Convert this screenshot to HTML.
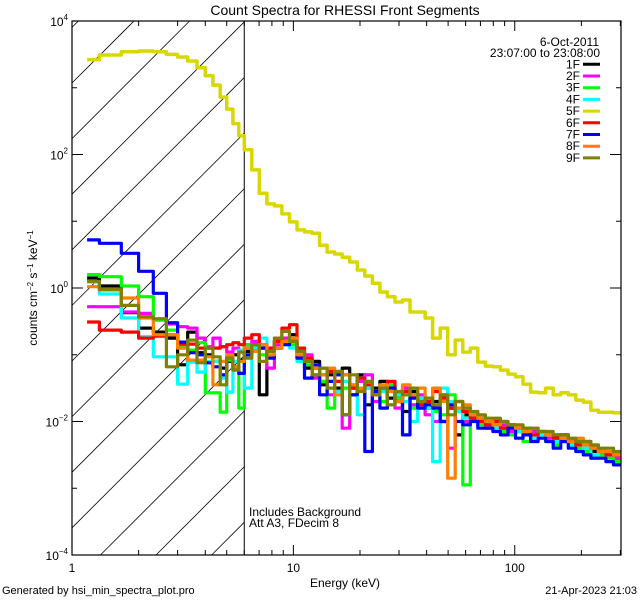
<!DOCTYPE html>
<html><head><meta charset="utf-8">
<style>
html,body{margin:0;padding:0;background:#fff;width:640px;height:600px;overflow:hidden;}
svg{display:block;font-family:"Liberation Sans",sans-serif;}
</style></head>
<body>
<svg id="chart" width="640" height="600" xmlns="http://www.w3.org/2000/svg" overflow="hidden">
<rect x="0" y="0" width="640" height="600" fill="#fff"/>
<text x="345" y="15" font-size="14" text-anchor="middle">Count Spectra for RHESSI Front Segments</text>
<g id="plot"></g>
<text x="345" y="587" font-size="12" text-anchor="middle">Energy (keV)</text>
<text transform="translate(37,288) rotate(-90)" font-size="12" text-anchor="middle">counts cm<tspan baseline-shift="super" font-size="8">−2</tspan> s<tspan baseline-shift="super" font-size="8">−1</tspan> keV<tspan baseline-shift="super" font-size="8">−1</tspan></text>
<text x="2" y="594" font-size="11">Generated by hsi_min_spectra_plot.pro</text>
<text x="637" y="594" font-size="11" text-anchor="end">21-Apr-2023 21:03</text>
<text x="249" y="516" font-size="12">Includes Background</text>
<text x="249" y="527" font-size="12">Att A3, FDecim 8</text>
<text x="599" y="46" font-size="12" text-anchor="end">6-Oct-2011</text>
<text x="600" y="57" font-size="12" text-anchor="end">23:07:00 to 23:08:00</text>
</svg>
<script>
// ---- data ----
const segments = ["1F","2F","3F","4F","5F","6F","7F","8F","9F"];
const colors = ["#000000","#ff00ff","#00ff00","#00ffff","#d8d800","#ff0000","#0000ff","#ff8000","#808000"];
const lowEdges = [1.17,1.33,1.67,2.0,2.33,2.67,3.0,3.33,3.67,4.0,4.33,4.67,5.0,5.33,5.67,6.0];
const highStart = 6.0, highEnd = 302, highBins = 50;
const xTicks = [1,10,100];
const xTickLabels = ["1","10","100"];
const yTickExps = [-4,-2,0,2,4];
const attenuatorEdge = 6.0;
// log10(counts) per segment: 15 low bins then 50 high bins
const log1F = [0.15,0.03,-0.37,-0.6,-0.66,-0.75,-1.15,-0.66,-0.97,-1.0,-1.1,-1.2,-1.1,-1.0,-1.08,
 -0.95,-0.85,-1.6,-0.9,-0.8,-0.75,-0.7,-0.95,-1.2,-1.1,-1.45,-1.3,-1.5,-1.2,-1.6,-1.3,-1.75,-1.5,-1.4,-1.65,-1.6,-1.85,-1.55,-1.7,-1.8,-1.7,-2.0,-1.8,-2.2,-1.9,-1.95,-2.0,-2.05,-2.0,-2.1,-2.05,-2.15,-2.1,-2.15,-2.2,-2.2,-2.25,-2.2,-2.3,-2.3,-2.35,-2.45,-2.45,-2.5,-2.55];
const log2F = [-0.28,-0.28,-0.36,-0.38,-0.48,-0.54,-0.58,-0.6,-0.75,-0.88,-0.75,-0.88,-0.96,-0.9,-0.95,
 -0.85,-0.8,-0.9,-1.2,-0.85,-0.75,-0.8,-1.05,-1.0,-1.35,-1.2,-1.6,-1.3,-2.1,-1.5,-1.4,-1.3,-1.7,-1.55,-1.45,-1.8,-1.5,-1.75,-1.6,-1.9,-2.0,-1.6,-2.4,-1.85,-2.0,-1.9,-1.95,-2.1,-2.0,-2.05,-2.15,-2.1,-2.2,-2.15,-2.2,-2.25,-2.2,-2.3,-2.3,-2.35,-2.4,-2.4,-2.45,-2.5,-2.55];
const log3F = [0.2,0.17,0.03,-0.13,-0.48,-0.63,-0.88,-0.93,-0.82,-1.57,-1.57,-1.86,-1.08,-1.2,-1.8,
 -0.85,-0.9,-1.0,-0.95,-0.8,-0.8,-0.85,-1.0,-1.15,-1.3,-1.4,-1.8,-1.3,-1.5,-1.6,-1.35,-1.5,-1.6,-1.7,-1.45,-1.65,-1.6,-1.8,-1.7,-1.75,-1.85,-1.9,-1.6,-1.8,-2.95,-1.9,-2.05,-2.0,-2.1,-2.15,-2.2,-2.1,-2.3,-2.25,-2.2,-2.3,-2.35,-2.3,-2.35,-2.4,-2.45,-2.55,-2.5,-2.55,-2.6];
const log4F = [0.09,-0.09,-0.45,-0.73,-1.03,-1.03,-1.44,-1.11,-1.26,-1.1,-1.1,-1.35,-1.56,-1.1,-0.93,
 -1.5,-0.9,-0.75,-0.95,-0.9,-0.85,-0.9,-1.1,-1.1,-1.2,-1.3,-1.25,-1.55,-1.4,-1.45,-1.9,-1.5,-1.6,-1.55,-1.75,-1.6,-1.7,-2.0,-1.65,-1.8,-2.6,-1.5,-1.7,-1.85,-1.95,-1.9,-2.0,-2.05,-2.1,-2.0,-2.1,-2.15,-2.1,-2.25,-2.2,-2.2,-2.3,-2.25,-2.35,-2.3,-2.4,-2.5,-2.4,-2.5,-2.5];
const log5F = [3.42,3.49,3.54,3.55,3.54,3.5,3.46,3.4,3.3,3.18,3.04,2.86,2.68,2.46,2.28,
 2.07,1.77,1.42,1.26,1.23,1.11,0.99,0.87,0.84,0.82,0.64,0.54,0.51,0.46,0.39,0.27,0.18,0.07,-0.06,-0.13,-0.21,-0.18,-0.36,-0.36,-0.45,-0.75,-0.6,-1.0,-0.78,-0.96,-0.9,-1.11,-1.17,-1.18,-1.23,-1.29,-1.33,-1.44,-1.56,-1.57,-1.5,-1.6,-1.57,-1.6,-1.68,-1.71,-1.83,-1.86,-1.86,-1.87];
const log6F = [-0.51,-0.63,-0.66,-0.75,-0.72,-0.7,-0.84,-0.84,-0.9,-0.9,-0.9,-0.88,-0.85,-0.82,-0.85,
 -0.75,-0.7,-0.85,-0.9,-0.8,-0.6,-0.55,-0.9,-1.05,-1.2,-1.3,-1.25,-1.4,-1.3,-1.5,-1.35,-1.45,-1.6,-1.5,-1.4,-1.7,-1.55,-1.6,-1.75,-1.7,-1.55,-1.65,-1.8,-1.7,-1.85,-1.95,-2.0,-2.05,-2.0,-2.1,-2.05,-2.1,-2.15,-2.2,-2.15,-2.2,-2.25,-2.2,-2.3,-2.35,-2.3,-2.4,-2.45,-2.5,-2.5];
const log7F = [0.72,0.67,0.52,0.25,-0.08,-0.52,-0.81,-0.97,-1.0,-1.12,-1.18,-1.3,-1.03,-1.18,-1.28,
 -1.0,-0.95,-0.9,-1.05,-0.9,-0.85,-0.8,-1.05,-1.35,-1.15,-1.6,-1.4,-1.3,-1.9,-1.6,-1.5,-2.45,-1.55,-1.8,-1.5,-1.7,-2.2,-1.65,-1.8,-1.75,-1.8,-2.0,-1.75,-2.0,-2.05,-2.0,-2.1,-2.1,-2.15,-2.2,-2.1,-2.25,-2.2,-2.3,-2.25,-2.3,-2.4,-2.3,-2.4,-2.45,-2.5,-2.55,-2.55,-2.6,-2.65];
const log8F = [0.02,-0.03,-0.15,-0.45,-0.7,-0.7,-0.9,-1.08,-1.08,-1.03,-1.45,-1.1,-1.0,-1.18,-1.1,
 -0.9,-0.95,-0.85,-1.0,-0.9,-0.8,-0.75,-1.0,-1.1,-1.2,-1.3,-1.2,-1.6,-1.3,-1.45,-1.5,-1.4,-1.6,-1.45,-1.55,-1.7,-1.45,-1.6,-1.5,-1.65,-1.5,-1.7,-2.85,-1.8,-1.75,-1.9,-1.95,-2.0,-2.05,-2.0,-2.05,-2.1,-2.15,-2.1,-2.15,-2.2,-2.2,-2.25,-2.3,-2.25,-2.35,-2.4,-2.45,-2.45,-2.5];
const log9F = [0.1,-0.02,-0.26,-0.43,-0.46,-1.18,-1.0,-0.78,-1.12,-0.9,-1.03,-1.45,-1.05,-1.23,-0.96,
 -1.05,-0.85,-1.1,-0.95,-0.75,-0.65,-0.8,-0.95,-1.1,-1.3,-1.2,-1.5,-1.25,-1.9,-1.3,-1.55,-1.4,-1.6,-1.5,-1.75,-1.55,-1.6,-1.5,-1.7,-1.65,-1.75,-1.6,-1.9,-1.7,-1.8,-1.85,-1.9,-1.95,-1.95,-2.0,-2.05,-2.05,-2.1,-2.1,-2.15,-2.15,-2.2,-2.2,-2.25,-2.3,-2.3,-2.35,-2.4,-2.4,-2.45];
const seriesLogs = [log1F,log2F,log3F,log4F,log5F,log6F,log7F,log8F,log9F];

// ---- layout ----
const L=72, R=621, T=21, B=555;
const xMin=Math.log10(1), xMax=Math.log10(302);
const yMin=-4, yMax=4;
function X(e){return L+(Math.log10(e)-xMin)/(xMax-xMin)*(R-L);}
function Y(lg){return B-(lg-yMin)/(yMax-yMin)*(B-T);}
const NS="http://www.w3.org/2000/svg";
const plot=document.getElementById('plot');
function mk(tag,attrs,parent){const el=document.createElementNS(NS,tag);for(const k in attrs)el.setAttribute(k,attrs[k]);(parent||plot).appendChild(el);return el;}

const edges=lowEdges.slice();
const ratio=Math.pow(highEnd/highStart,1/highBins);
for(let k=1;k<=highBins;k++)edges.push(highStart*Math.pow(ratio,k));

const defs=mk('defs',{});
const cp=mk('clipPath',{id:'plotclip'},defs);
mk('rect',{x:L,y:T,width:R-L,height:B-T},cp);

const hatch=mk('g',{});


const XR=X(attenuatorEdge);
for(let c=83-55.6*2;c<B+(XR-L);c+=55.6){
  // line y = c - (x - L), clipped to [L,XR]x[T,B]
  const xs=Math.max(L, L+(c-B));
  const xe=Math.min(XR, L+(c-T));
  if(xe<=xs) continue;
  mk('line',{x1:xs,y1:c-(xs-L),x2:xe,y2:c-(xe-L),stroke:'#000','stroke-width':0.8},hatch);
}
const vline=mk('line',{x1:XR,y1:T,x2:XR,y2:B,stroke:'#000','stroke-width':1});



const sg=mk('g',{'clip-path':'url(#plotclip)'});
seriesLogs.forEach((arr,si)=>{
  let d='';
  const n=Math.min(arr.length,edges.length-1);
  for(let i=0;i<n;i++){
    const x0=X(edges[i]),x1=Math.min(X(edges[i+1]),R),y=Y(arr[i]);
    d+=(i===0?'M':'L')+x0.toFixed(1)+','+y.toFixed(1)+'L'+x1.toFixed(1)+','+y.toFixed(1);
  }
  const p=mk('path',{d:d,fill:'none',stroke:colors[si],'stroke-width':si===4?3.5:3.2,'stroke-linejoin':'round'},sg);
  
  
});

const box=mk('rect',{x:L,y:T,width:R-L,height:B-T,fill:'none',stroke:'#000','stroke-width':1.2});



const xt=mk('g',{});


for(let dec=1;dec<=100;dec*=10){
  for(let m=1;m<=9;m++){
    const e=dec*m; if(e>302)break;
    const x=X(e), len=(m===1)?10:5;
    mk('line',{x1:x,y1:B,x2:x,y2:B-len,stroke:'#000','stroke-width':1},xt);
    mk('line',{x1:x,y1:T,x2:x,y2:T+len,stroke:'#000','stroke-width':1},xt);
  }
}
xTicks.forEach((v,i)=>{
  const t=mk('text',{x:X(v),y:B+17,'font-size':12,'text-anchor':'middle'});
  t.textContent=xTickLabels[i];
  
  
});
const yt=mk('g',{});


for(let e=yMin;e<=yMax;e++){
  const y=Y(e), len=(e%2===0)?11:5;
  mk('line',{x1:L,y1:y,x2:L+len,y2:y,stroke:'#000','stroke-width':1},yt);
  mk('line',{x1:R,y1:y,x2:R-len,y2:y,stroke:'#000','stroke-width':1},yt);
}
yTickExps.forEach(e=>{
  const t=mk('text',{x:L-4,y:Y(e)+5,'font-size':12,'text-anchor':'end'});
  
  
  const a=document.createElementNS(NS,'tspan');a.textContent='10';t.appendChild(a);
  const b=document.createElementNS(NS,'tspan');b.setAttribute('dy','-6');b.setAttribute('font-size','8');
  b.textContent=(e<0?'−':'')+Math.abs(e);t.appendChild(b);
});

const lg=mk('g',{});


segments.forEach((s,i)=>{
  const y=64.3+i*11.7;
  const t=mk('text',{x:580,y:y+4,'font-size':12,'text-anchor':'end'},lg);
  t.textContent=s;
  
  
  const l=mk('line',{x1:583,y1:y,x2:600,y2:y,stroke:colors[i],'stroke-width':3},lg);
  
  
});
</script>
</body></html>
